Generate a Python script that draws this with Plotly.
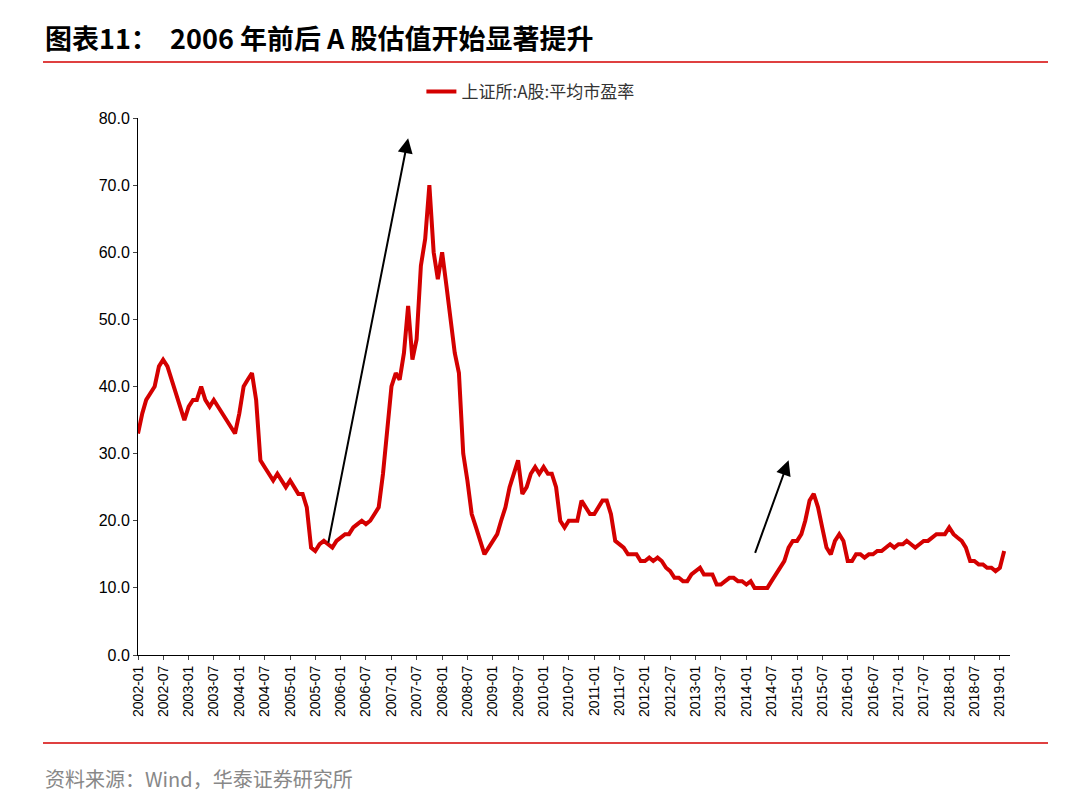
import plotly.graph_objects as go
import pandas as pd

pe_values = [
33,36,38,39,40,43,44,43,41,39,37,35,
37,38,38,40,38,37,38,37,36,35,34,33,
36,40,41,42,38,29,28,27,26,27,26,25,
26,25,24,24,22,16,15.5,16.5,17,16.5,16,17,
17.5,18,18,19,19.5,20,19.5,20,21,22,27,33,
40,42,41,45,52,44,47,58,62,70,60,56,
60,55,50,45,42,30,26,21,19,17,15,16,
17,18,20,22,25,27,29,24,25,27,28,27,
28,27,27,25,20,19,20,20,20,23,22,21,
21,22,23,23,21,17,16.5,16,15,15,15,14,
14,14.5,14,14.5,14,13,12.5,11.5,11.5,11,11,12,
12.5,13,12,12,12,10.5,10.5,11,11.5,11.5,11,11,
10.5,11,10,10,10,10,11,12,13,14,16,17,
17,18,20,23,24,22,19,16,15,17,18,17,
14,14,15,15,14.5,15,15,15.5,15.5,16,16.5,16,
16.5,16.5,17,16.5,16,16.5,17,17,17.5,18,18,18,
19,18,17.5,17,16,14,14,13.5,13.5,13,13,12.5,
13,15.5]
dates = pd.date_range("2002-01-01", periods=len(pe_values), freq="MS")
series_name = "上证所:A股:平均市盈率"
title = "图表11：  2006 年前后 A 股估值开始显著提升"
source = "资料来源：Wind，华泰证券研究所"
tick_vals = pd.date_range("2002-01-01", "2019-01-01", freq="6MS")
tick_text = [d.strftime("%Y-%m") for d in tick_vals]

red = "#D40000"
L, R, T, B = 130, 78, 110, 160
fig = go.Figure(go.Scatter(x=dates, y=pe_values, mode="lines", name=series_name,
                           line=dict(color=red, width=4)))
fig.update_layout(
    width=1080, height=807, plot_bgcolor="white", paper_bgcolor="white",
    font=dict(family="Noto Sans CJK SC", size=15, color="#000"),
    margin=dict(l=L, r=R, t=T, b=B, autoexpand=False),
    showlegend=True,
    legend=dict(orientation="h", x=0.45, xanchor="center", y=1.015, yanchor="bottom",
                font=dict(size=17, color="#333")),
    xaxis=dict(tickvals=tick_vals, ticktext=tick_text, tickangle=-90,
               range=["2002-01-01", "2019-03-15"], showgrid=False,
               showline=True, linecolor="#000", ticks="outside", ticklen=4,
               tickfont=dict(family="Arial", size=14)),
    yaxis=dict(range=[0, 80], dtick=10, tickformat=".1f", showgrid=False,
               showline=True, linecolor="#000", ticks="outside", ticklen=4,
               tickfont=dict(family="Arial", size=16)),
    annotations=[
        dict(x="2007-05-01", y=77, ax="2005-10-01", ay=16.5, xref="x", yref="y",
             axref="x", ayref="y", showarrow=True, arrowhead=2, arrowsize=1.5,
             arrowwidth=2, arrowcolor="#000", text=""),
        dict(x="2014-11-01", y=29, ax="2014-03-01", ay=15, xref="x", yref="y",
             axref="x", ayref="y", showarrow=True, arrowhead=2, arrowsize=1.5,
             arrowwidth=2, arrowcolor="#000", text=""),
        dict(x=35, y=807-30, xref="paper", yref="paper", text="<b>"+title+"</b>",
             showarrow=False, xanchor="left", yanchor="middle", font=dict(size=27)),
        dict(x=35, y=807-770, xref="paper", yref="paper", text=source,
             showarrow=False, xanchor="left", yanchor="middle",
             font=dict(size=20, color="#888")),
    ],
    shapes=[
        dict(type="line", xref="paper", yref="paper", x0=35, x1=1040, y0=807-54, y1=807-54,
             line=dict(color=red, width=1.5)),
        dict(type="line", xref="paper", yref="paper", x0=35, x1=1040, y0=807-735, y1=807-735,
             line=dict(color=red, width=1.5)),
    ],
)
pw, ph = 1080-L-R, 807-T-B
for a in fig.layout.annotations:
    if a.xref == "paper":
        a.x = (a.x-L)/pw; a.y = (a.y-B)/ph
for s in fig.layout.shapes:
    s.x0 = (s.x0-L)/pw; s.x1 = (s.x1-L)/pw
    s.y0 = (s.y0-B)/ph; s.y1 = (s.y1-B)/ph
fig.write_html("out.html")
